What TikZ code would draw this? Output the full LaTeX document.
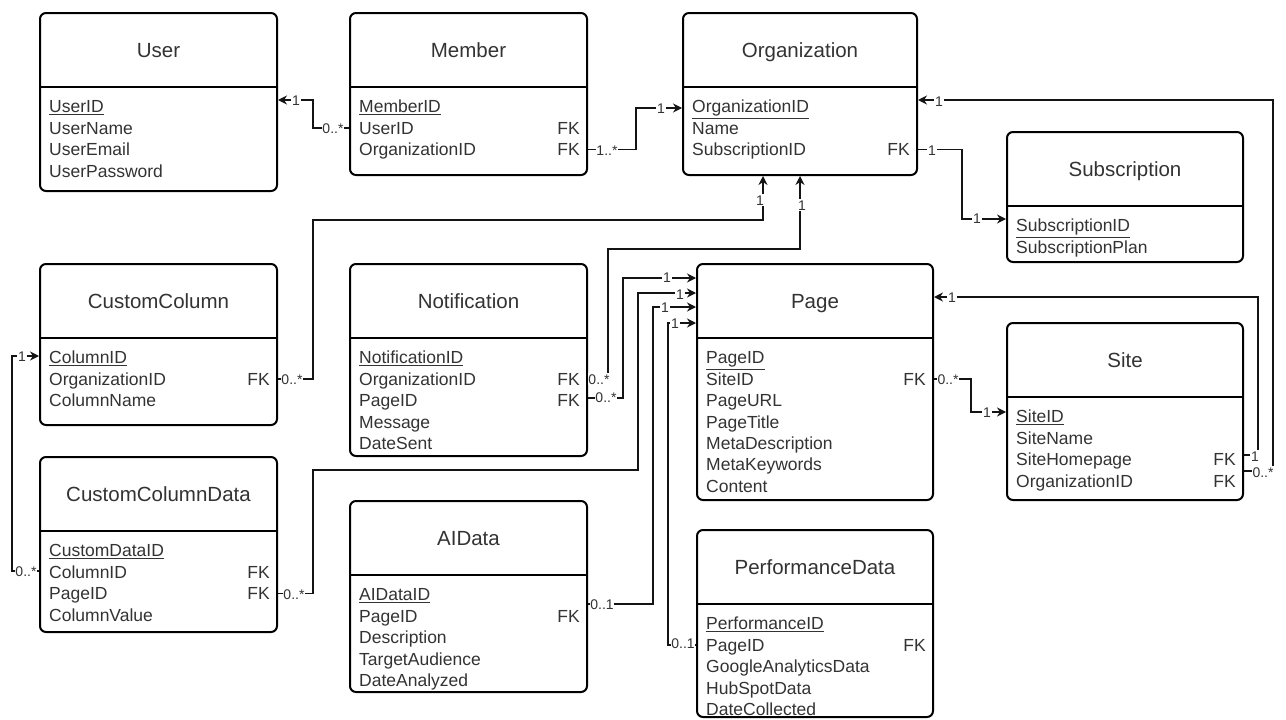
\documentclass[tikz,border=0pt]{standalone}
\usepackage{fontspec}
\setmainfont{Liberation Sans}
\usetikzlibrary{arrows.meta,calc}
\definecolor{txt}{RGB}{51,51,51}
\definecolor{lin}{RGB}{20,20,20}
\tikzset{
  ebox/.style={draw=black, line width=2pt, rounded corners=6pt, fill=white, inner sep=0pt},
  ediv/.style={draw=black, line width=2pt},
  etitle/.style={font=\fontsize{20.5}{24}\selectfont, text=txt, inner sep=0pt, text height=14.7pt, text depth=0pt},
  rowtxt/.style={font=\fontsize{17.5}{21}\selectfont, text=txt, inner sep=0pt, text height=12.6pt, text depth=0pt},
  conn/.style={draw=lin, line width=1.3pt, -{Stealth[length=9pt,width=9pt]}},
  lbl/.style={font=\fontsize{14}{16}\selectfont, text=txt, fill=white, inner sep=0.8pt, text height=10pt, text depth=0pt},
}
\newcommand\ent[6]{%
  \node[ebox, minimum width={(#4)-(#2)}, minimum height={(#5)-(#3)}] (#1) at ({((#2)+(#4))/2},{((#3)+(#5))/2}) {};
  \draw[ediv] (#2,#3+74) -- (#4,#3+74);
  \node[etitle] (#1-title) at ({((#2)+(#4))/2},#3+37) {#6};
}
\newcommand\pkrow[4]{\node[rowtxt,anchor=west] (#1) at (#2+9,#3) {\underline{#4}};}
\newcommand\frow[4]{\node[rowtxt,anchor=west] (#1) at (#2+9,#3) {#4};}
\newcommand\fkrow[5]{\node[rowtxt,anchor=west] (#1) at (#2+9,#4) {#5};
  \node[rowtxt,anchor=east] (#1-fk) at (#3-7,#4) {FK};}
\begin{document}
\begin{tikzpicture}[x=1pt,y=-1pt]
\useasboundingbox[fill=white] (0,0) rectangle (1286,720);

% ---------- entities ----------
\ent{user}{40}{13}{277}{191}{User}
\pkrow{u-id}{40}{106.5}{UserID}
\frow{u-name}{40}{127.9}{UserName}
\frow{u-mail}{40}{149.3}{UserEmail}
\frow{u-pw}{40}{170.7}{UserPassword}

\ent{member}{350}{13}{587}{175}{Member}
\pkrow{m-id}{350}{106.5}{MemberID}
\fkrow{m-uid}{350}{587}{127.9}{UserID}
\fkrow{m-oid}{350}{587}{149.3}{OrganizationID}

\ent{org}{683}{13}{917}{175}{Organization}
\pkrow{o-id}{683}{106.5}{OrganizationID}
\frow{o-name}{683}{127.9}{Name}
\fkrow{o-sid}{683}{917}{149.3}{SubscriptionID}

\ent{subs}{1007}{132}{1243}{262}{Subscription}
\pkrow{s-id}{1007}{225.5}{SubscriptionID}
\frow{s-plan}{1007}{246.9}{SubscriptionPlan}

\ent{cc}{40}{264}{277}{425}{CustomColumn}
\pkrow{cc-id}{40}{357.5}{ColumnID}
\fkrow{cc-oid}{40}{277}{378.9}{OrganizationID}
\frow{cc-name}{40}{400.3}{ColumnName}

\ent{notif}{350}{264}{587}{456}{Notification}
\pkrow{n-id}{350}{357.5}{NotificationID}
\fkrow{n-oid}{350}{587}{378.9}{OrganizationID}
\fkrow{n-pid}{350}{587}{400.3}{PageID}
\frow{n-msg}{350}{421.7}{Message}
\frow{n-date}{350}{443.1}{DateSent}

\ent{page}{697}{264}{933}{500}{Page}
\pkrow{p-id}{697}{357.5}{PageID}
\fkrow{p-sid}{697}{933}{378.9}{SiteID}
\frow{p-url}{697}{400.3}{PageURL}
\frow{p-title}{697}{421.7}{PageTitle}
\frow{p-desc}{697}{443.1}{MetaDescription}
\frow{p-kw}{697}{464.5}{MetaKeywords}
\frow{p-cont}{697}{485.9}{Content}

\ent{site}{1007}{323}{1243}{500}{Site}
\pkrow{si-id}{1007}{416.5}{SiteID}
\frow{si-name}{1007}{437.9}{SiteName}
\fkrow{si-home}{1007}{1243}{459.3}{SiteHomepage}
\fkrow{si-oid}{1007}{1243}{480.7}{OrganizationID}

\ent{ccd}{40}{457}{277}{632}{CustomColumnData}
\pkrow{ccd-id}{40}{550.5}{CustomDataID}
\fkrow{ccd-cid}{40}{277}{571.9}{ColumnID}
\fkrow{ccd-pid}{40}{277}{593.3}{PageID}
\frow{ccd-val}{40}{614.7}{ColumnValue}

\ent{ai}{350}{501}{587}{692}{AIData}
\pkrow{ai-id}{350}{594.5}{AIDataID}
\fkrow{ai-pid}{350}{587}{615.9}{PageID}
\frow{ai-desc}{350}{637.3}{Description}
\frow{ai-aud}{350}{658.7}{TargetAudience}
\frow{ai-date}{350}{680.1}{DateAnalyzed}

\ent{perf}{697}{530}{933}{717}{PerformanceData}
\pkrow{pf-id}{697}{623.5}{PerformanceID}
\fkrow{pf-pid}{697}{933}{644.9}{PageID}
\frow{pf-ga}{697}{666.3}{GoogleAnalyticsData}
\frow{pf-hs}{697}{687.7}{HubSpotData}
\frow{pf-date}{697}{709.1}{DateCollected}

% ---------- connectors ----------
\draw[conn] (member.west |- m-uid) -| (313,100) -- (user.east |- 0,100);
\draw[conn] (member.east |- m-oid) -| (636,108) -- (org.west |- 0,108);
\draw[conn] (org.east |- o-sid) -| (962,219) -- (subs.west |- 0,219);
\draw[conn] (site.east |- 0,471) -| (1273,100) -- (org.east |- 0,100);
\draw[conn] (site.east |- 0,455) -| (1258,297) -- (page.east |- 0,297);
\draw[conn] (page.east |- p-sid) -| (971,412) -- (site.west |- 0,412);
\draw[conn] (cc.east |- cc-oid) -| (313,220) -| (org.south -| 763,0);
\draw[conn] (notif.east |- n-oid) -| (608,249) -| (org.south -| 800,0);
\draw[conn] (notif.east |- 0,398) -| (623,278) -- (page.west |- 0,278);
\draw[conn] (ccd.east |- ccd-pid) -| (313,470) -| (638,293) -- (page.west |- 0,293);
\draw[conn] (ai.east |- 0,604) -| (653,307) -- (page.west |- 0,307);
\draw[conn] (perf.west |- pf-pid) -| (668,323) -- (page.west |- 0,323);
\draw[conn] (ccd.west |- 0,571) -| (12,356) -- (cc.west |- 0,356);

% ---------- labels ----------
\node[lbl] (l1a) at (296,100) {1};
\node[lbl] (l1b) at (333,128) {0..*};
\node[lbl] (l2a) at (607,150) {1..*};
\node[lbl] (l2b) at (661,108) {1};
\node[lbl] (l3a) at (932,150) {1};
\node[lbl] (l3b) at (977,218) {1};
\node[lbl] (l4a) at (1263,472) {0..*};
\node[lbl] (l4b) at (939,101) {1};
\node[lbl] (l5a) at (1255,456) {1};
\node[lbl] (l5b) at (952,297) {1};
\node[lbl] (l6a) at (948,379) {0..*};
\node[lbl] (l6b) at (987,412) {1};
\node[lbl] (l7a) at (292,379) {0..*};
\node[lbl] (l7b) at (760,200) {1};
\node[lbl] (l8a) at (599,379) {0..*};
\node[lbl] (l8b) at (802,205) {1};
\node[lbl] (l9a) at (606,397) {0..*};
\node[lbl] (l9b) at (667,277) {1};
\node[lbl] (l10a) at (294,594) {0..*};
\node[lbl] (l10b) at (680,294) {1};
\node[lbl] (l11a) at (602,604) {0..1};
\node[lbl] (l11b) at (665,307) {1};
\node[lbl] (l12a) at (683,643) {0..1};
\node[lbl] (l12b) at (675,323) {1};
\node[lbl] (l13a) at (26,571) {0..*};
\node[lbl] (l13b) at (22,356) {1};
\end{tikzpicture}
\end{document}
